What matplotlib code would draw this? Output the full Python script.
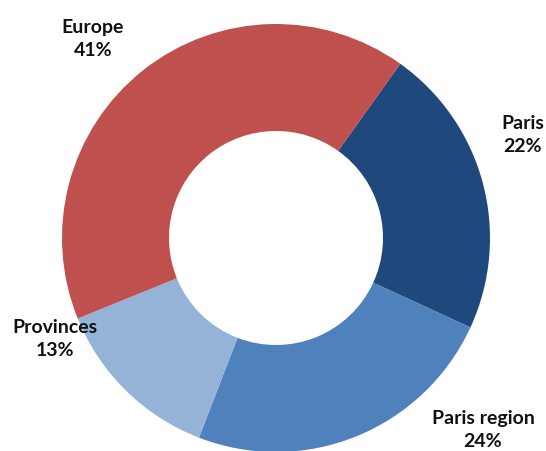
import matplotlib
matplotlib.use("Agg")
import matplotlib.pyplot as plt

# Breakdown by origin
categories = ["Paris", "Paris region", "Provinces", "Europe"]
shares = [22, 24, 13, 41]
colors = ["#1F497D", "#4F81BD", "#95B3D7", "#C0504D"]

W, H = 546, 452
fig = plt.figure(figsize=(W / 100, H / 100), dpi=100)
ax = fig.add_axes([0, 0, 1, 1])

cx, cy, r = 276, H - 239, 214
ax.pie(shares, colors=colors, startangle=54.5, counterclock=False,
       center=(cx, cy), radius=r, frame=True,
       wedgeprops=dict(width=r * 0.5, linewidth=0))
ax.set_xlim(0, W)
ax.set_ylim(0, H)
ax.set_aspect("equal")
ax.axis("off")

label_pos = {
    "Paris": (523, 135),
    "Paris region": (483, 430),
    "Provinces": (55, 339),
    "Europe": (93, 39),
}
for name, val in zip(categories, shares):
    px, py = label_pos[name]
    ax.text(px, H - py, f"{name}\n{val}%", ha="center", va="center",
            fontsize=14, fontweight="bold", family="Lato",
            linespacing=1.45, color="#111111")

fig.savefig("out.png", dpi=100)
